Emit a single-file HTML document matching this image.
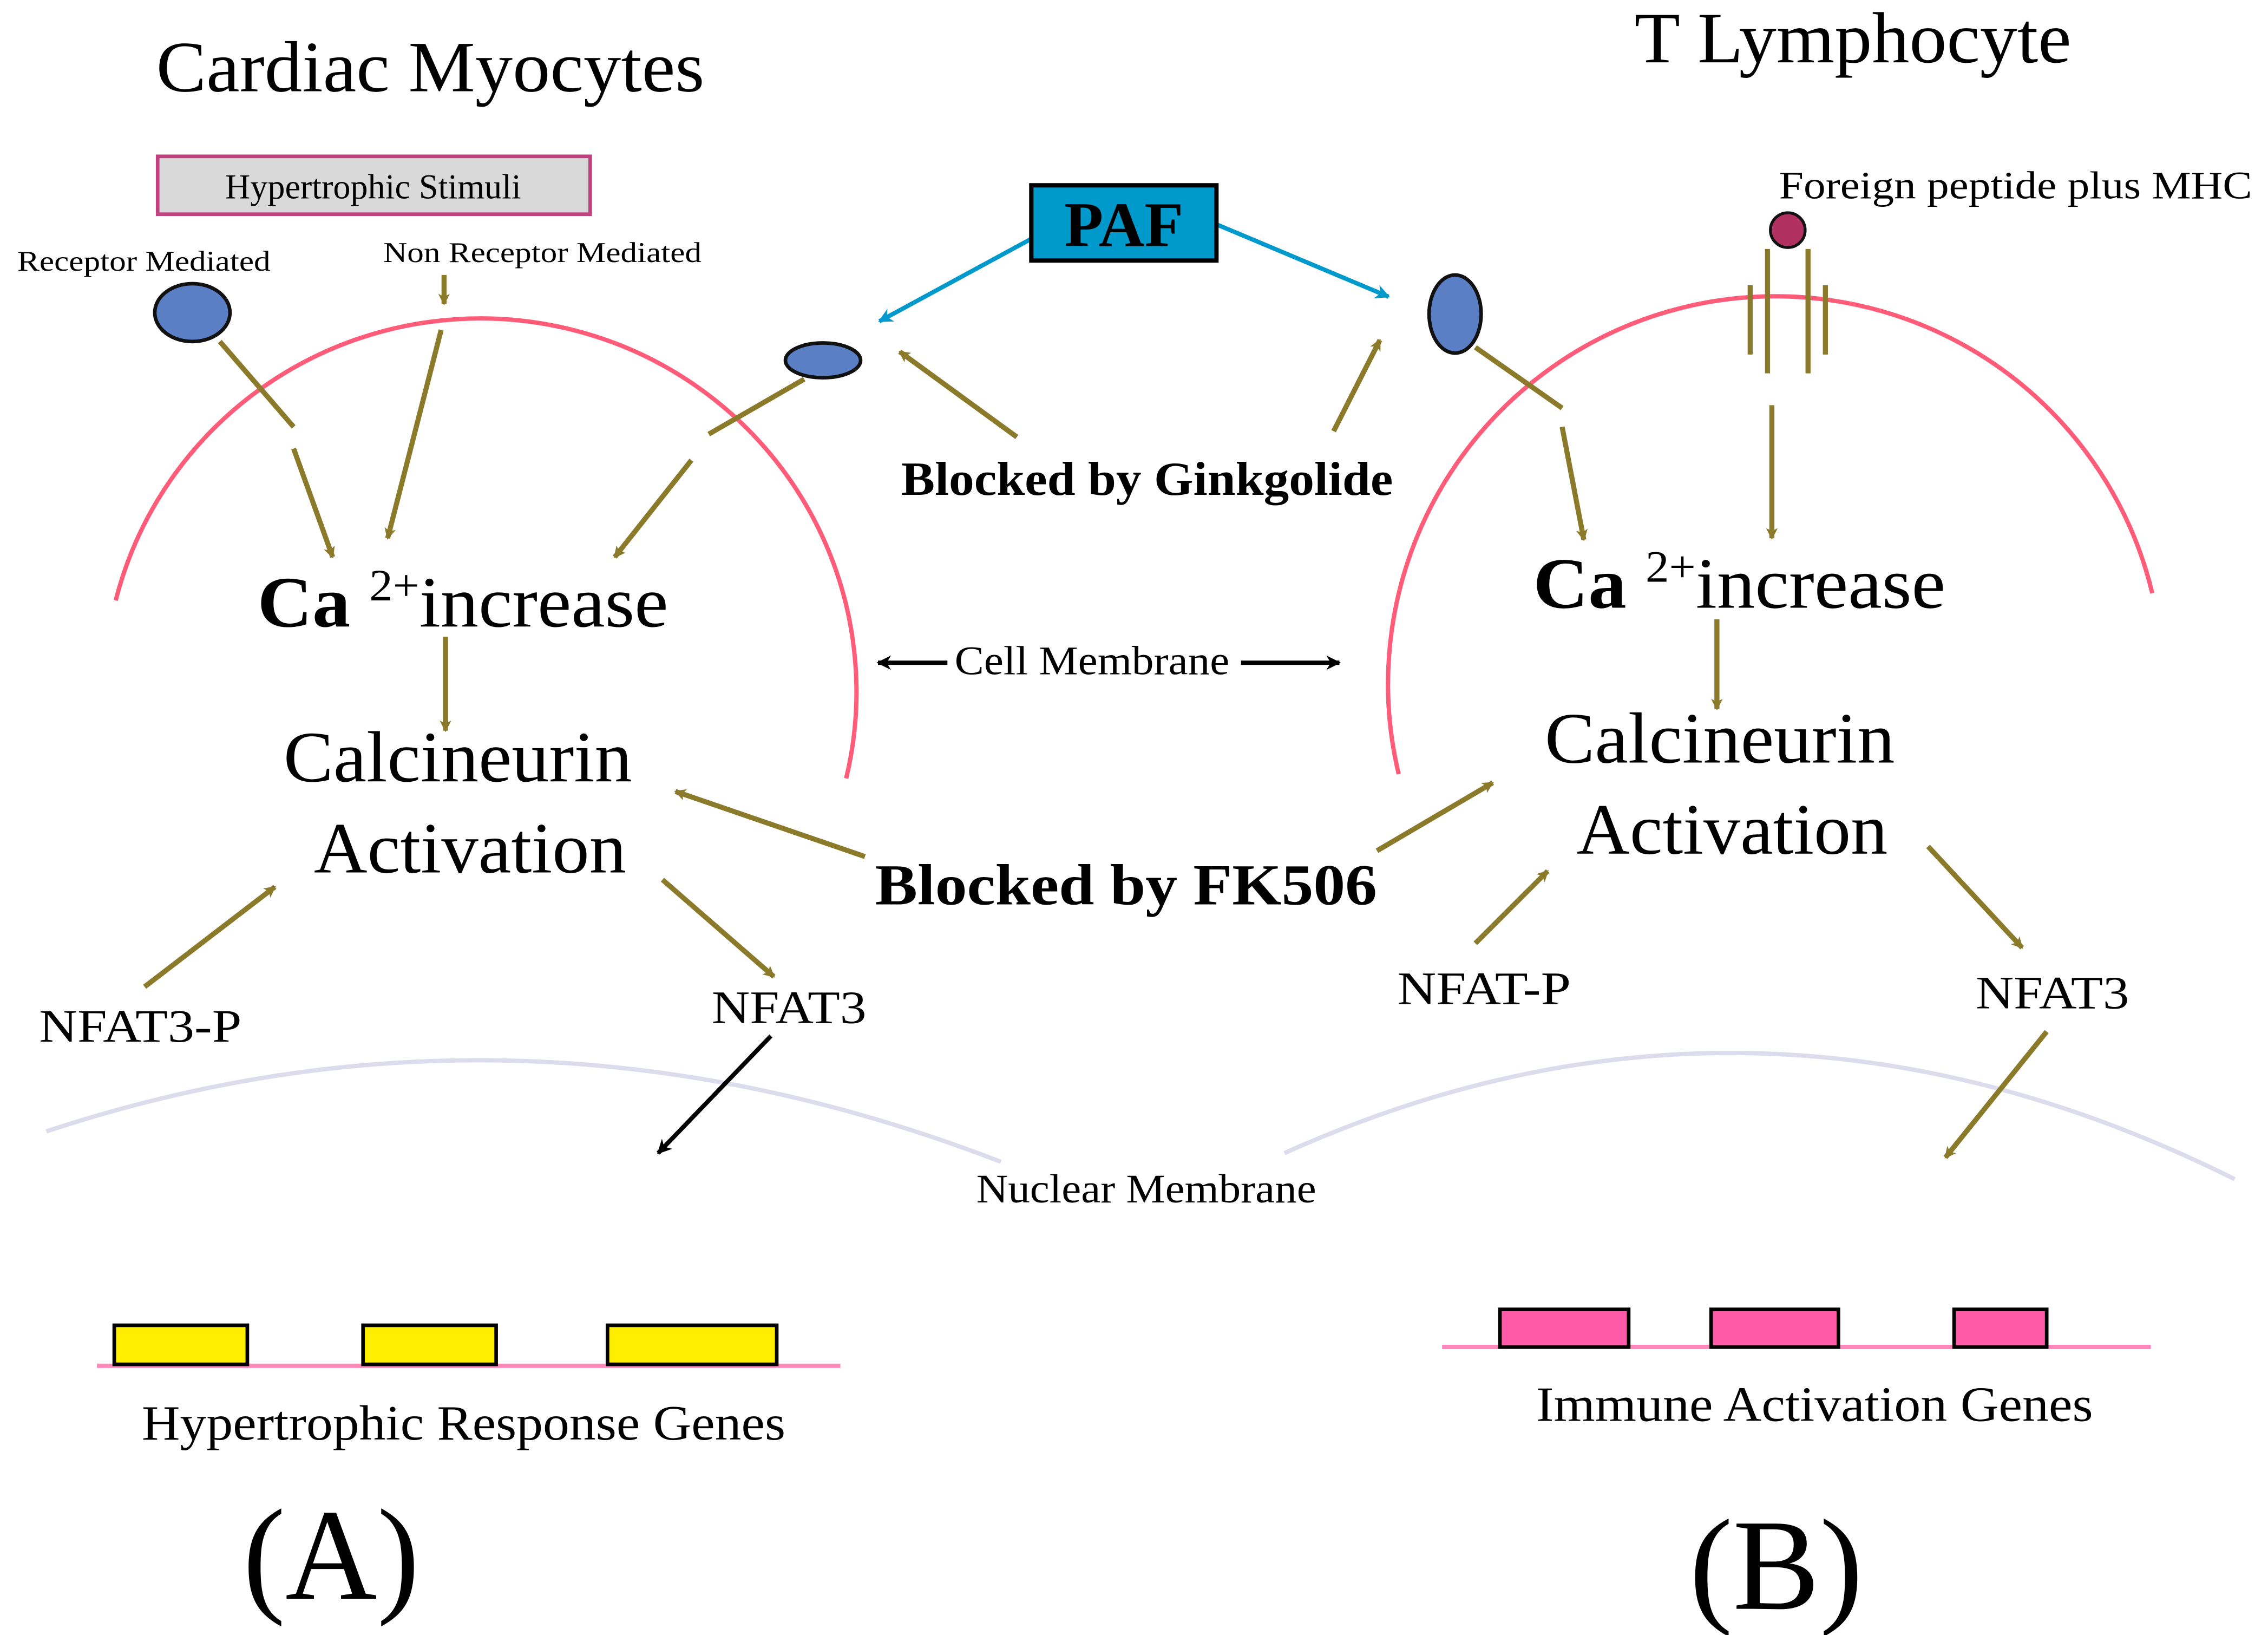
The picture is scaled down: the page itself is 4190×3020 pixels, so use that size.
<!DOCTYPE html>
<html><head><meta charset="utf-8"><style>
html,body{margin:0;padding:0;background:#fff;}
svg{display:block;}
text{font-family:"Liberation Serif",serif;fill:#000;}
</style></head><body>
<svg width="4190" height="3020" viewBox="0 0 1568 1130" xmlns="http://www.w3.org/2000/svg">
<defs>
<marker id="ao" markerWidth="8" markerHeight="8" refX="7" refY="4" orient="auto" markerUnits="userSpaceOnUse" viewBox="0 0 8 8"><path d="M0,0 L8,4 L0,8 L2,4 z" fill="#8b7a2a"/></marker>
<marker id="ab" markerWidth="10" markerHeight="10" refX="9" refY="5" orient="auto" markerUnits="userSpaceOnUse" viewBox="0 0 10 10"><path d="M0,0 L10,5 L0,10 L3,5 z" fill="#0099cc"/></marker>
<marker id="ak" markerWidth="10" markerHeight="10" refX="9" refY="5" orient="auto" markerUnits="userSpaceOnUse" viewBox="0 0 10 10"><path d="M0,0 L10,5 L0,10 L3,5 z" fill="#000"/></marker>
</defs>
<rect width="1568" height="1130" fill="#fff"/>

<text x="108" y="63" font-size="50" textLength="379" lengthAdjust="spacingAndGlyphs">Cardiac Myocytes</text>
<text x="1130" y="43" font-size="50" textLength="302" lengthAdjust="spacingAndGlyphs">T Lymphocyte</text>

<rect x="109" y="108" width="299" height="40" fill="#d9d9d9" stroke="#c04080" stroke-width="2.5"/>
<text x="258" y="137" font-size="24" text-anchor="middle">Hypertrophic Stimuli</text>
<text x="12" y="187" font-size="20" textLength="175" lengthAdjust="spacingAndGlyphs">Receptor Mediated</text>
<text x="265" y="181" font-size="20" textLength="220" lengthAdjust="spacingAndGlyphs">Non Receptor Mediated</text>

<path d="M80,415 A260,258 0 0 1 585,538" fill="none" stroke="#ff5c7a" stroke-width="3"/>
<path d="M967,535 A262,262 0 0 1 1488,410" fill="none" stroke="#ff5c7a" stroke-width="3"/>
<path d="M32,782 Q358,674 692,803" fill="none" stroke="#dcdcec" stroke-width="3"/>
<path d="M888,797 Q1214,650 1545,815" fill="none" stroke="#dcdcec" stroke-width="3"/>

<ellipse cx="133" cy="216" rx="26" ry="20" fill="#5b7fc5" stroke="#111" stroke-width="2.5"/>
<ellipse cx="569" cy="249" rx="26" ry="12" fill="#5b7fc5" stroke="#111" stroke-width="2.5"/>
<ellipse cx="1006" cy="217" rx="18" ry="27" fill="#5b7fc5" stroke="#111" stroke-width="2.5"/>

<g stroke="#8b7a2a" stroke-width="3.5" fill="none">
<line x1="307" y1="190" x2="307" y2="210" marker-end="url(#ao)"/>
<line x1="152" y1="236" x2="203" y2="295"/>
<line x1="203" y1="310" x2="230" y2="385" marker-end="url(#ao)"/>
<line x1="305" y1="228" x2="268" y2="372" marker-end="url(#ao)"/>
<line x1="556" y1="262" x2="490" y2="300"/>
<line x1="478" y1="318" x2="425" y2="385" marker-end="url(#ao)"/>
<line x1="703" y1="302" x2="622" y2="243" marker-end="url(#ao)"/>
<line x1="922" y1="298" x2="954" y2="235" marker-end="url(#ao)"/>
<line x1="308" y1="440" x2="308" y2="505" marker-end="url(#ao)"/>
<line x1="598" y1="592" x2="467" y2="547" marker-end="url(#ao)"/>
<line x1="952" y1="588" x2="1032" y2="541" marker-end="url(#ao)"/>
<line x1="100" y1="682" x2="190" y2="613" marker-end="url(#ao)"/>
<line x1="458" y1="608" x2="535" y2="675" marker-end="url(#ao)"/>
<line x1="1020" y1="240" x2="1080" y2="282"/>
<line x1="1080" y1="295" x2="1095" y2="373" marker-end="url(#ao)"/>
<line x1="1210" y1="197" x2="1210" y2="245"/>
<line x1="1222" y1="172" x2="1222" y2="258"/>
<line x1="1250" y1="172" x2="1250" y2="258"/>
<line x1="1262" y1="197" x2="1262" y2="245"/>
<line x1="1225" y1="280" x2="1225" y2="372" marker-end="url(#ao)"/>
<line x1="1187" y1="428" x2="1187" y2="490" marker-end="url(#ao)"/>
<line x1="1020" y1="652" x2="1070" y2="602" marker-end="url(#ao)"/>
<line x1="1333" y1="585" x2="1398" y2="655" marker-end="url(#ao)"/>
<line x1="1415" y1="713" x2="1345" y2="800" marker-end="url(#ao)"/>
</g>

<circle cx="1236" cy="159" r="12" fill="#b03060" stroke="#111" stroke-width="2"/>
<text x="1230" y="137" font-size="27" textLength="327" lengthAdjust="spacingAndGlyphs">Foreign peptide plus MHC</text>

<g stroke="#0099cc" stroke-width="3">
<line x1="713" y1="165" x2="608" y2="222" marker-end="url(#ab)"/>
<line x1="841" y1="155" x2="960" y2="205" marker-end="url(#ab)"/>
</g>
<rect x="713" y="128" width="128" height="52" fill="#0099cc" stroke="#000" stroke-width="3"/>
<text x="777" y="170" font-size="44" font-weight="bold" text-anchor="middle">PAF</text>

<text x="623" y="342" font-size="33" font-weight="bold" textLength="340" lengthAdjust="spacingAndGlyphs">Blocked by Ginkgolide</text>

<text x="178" y="433" font-size="50" textLength="284" lengthAdjust="spacingAndGlyphs"><tspan font-weight="bold">Ca </tspan><tspan font-size="31" dy="-18">2+</tspan><tspan dy="18">increase</tspan></text>
<text x="1060" y="420" font-size="50" textLength="285" lengthAdjust="spacingAndGlyphs"><tspan font-weight="bold">Ca </tspan><tspan font-size="31" dy="-18">2+</tspan><tspan dy="18">increase</tspan></text>

<text x="196" y="540" font-size="50" textLength="241" lengthAdjust="spacingAndGlyphs">Calcineurin</text>
<text x="217" y="603" font-size="50" textLength="216" lengthAdjust="spacingAndGlyphs">Activation</text>
<text x="1068" y="527" font-size="50" textLength="242" lengthAdjust="spacingAndGlyphs">Calcineurin</text>
<text x="1090" y="590" font-size="50" textLength="215" lengthAdjust="spacingAndGlyphs">Activation</text>

<g stroke="#000" stroke-width="3">
<line x1="655" y1="458" x2="607" y2="458" marker-end="url(#ak)"/>
<line x1="858" y1="458" x2="926" y2="458" marker-end="url(#ak)"/>
<line x1="533" y1="716" x2="455" y2="797" marker-end="url(#ak)"/>
</g>
<text x="660" y="466" font-size="28" textLength="190" lengthAdjust="spacingAndGlyphs">Cell Membrane</text>
<text x="605" y="625" font-size="40" font-weight="bold" textLength="347" lengthAdjust="spacingAndGlyphs">Blocked by FK506</text>

<text x="27" y="720" font-size="32" textLength="140" lengthAdjust="spacingAndGlyphs">NFAT3-P</text>
<text x="492" y="707" font-size="32" textLength="107" lengthAdjust="spacingAndGlyphs">NFAT3</text>
<text x="966" y="694" font-size="32" textLength="120" lengthAdjust="spacingAndGlyphs">NFAT-P</text>
<text x="1366" y="697" font-size="32" textLength="106" lengthAdjust="spacingAndGlyphs">NFAT3</text>
<text x="675" y="831" font-size="28" textLength="235" lengthAdjust="spacingAndGlyphs">Nuclear Membrane</text>

<line x1="67" y1="944" x2="581" y2="944" stroke="#ff88bb" stroke-width="3"/>
<g fill="#ffee00" stroke="#000" stroke-width="2.5">
<rect x="79" y="916" width="92" height="27"/>
<rect x="251" y="916" width="92" height="27"/>
<rect x="420" y="916" width="117" height="27"/>
</g>
<text x="98" y="995" font-size="34" textLength="445" lengthAdjust="spacingAndGlyphs">Hypertrophic Response Genes</text>

<line x1="997" y1="931" x2="1487" y2="931" stroke="#ff88bb" stroke-width="3"/>
<g fill="#ff5aa8" stroke="#000" stroke-width="2.5">
<rect x="1037" y="905" width="89" height="26"/>
<rect x="1183" y="905" width="88" height="26"/>
<rect x="1351" y="905" width="64" height="26"/>
</g>
<text x="1062" y="982" font-size="34" textLength="385" lengthAdjust="spacingAndGlyphs">Immune Activation Genes</text>

<text x="168" y="1105" font-size="90" textLength="122" lengthAdjust="spacingAndGlyphs">(A)</text>
<text x="1168" y="1112" font-size="90" textLength="120" lengthAdjust="spacingAndGlyphs">(B)</text>
</svg>
</body></html>
